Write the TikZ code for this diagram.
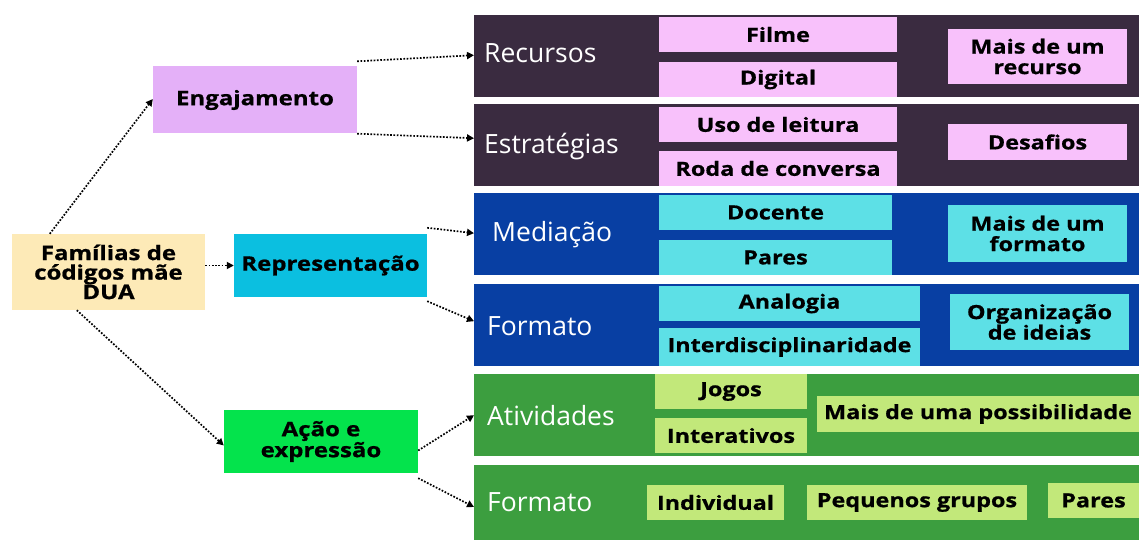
\documentclass[tikz,border=0pt]{standalone}
\usepackage{fontspec}
\setmainfont{Open Sans}
\newfontfamily\boxfont{Open Sans}[FakeStretch=1.2, BoldFeatures={FakeBold=0.8}]
\usepackage{tikz}
\usetikzlibrary{arrows.meta, positioning, calc}

\definecolor{bandpurple}{RGB}{58,43,64}
\definecolor{bandblue}{RGB}{8,63,163}
\definecolor{bandgreen}{RGB}{60,158,63}
\definecolor{pinkbox}{RGB}{248,193,251}
\definecolor{cyanbox}{RGB}{93,224,230}
\definecolor{limebox}{RGB}{194,232,122}
\definecolor{engfill}{RGB}{228,176,248}
\definecolor{repfill}{RGB}{11,191,224}
\definecolor{acaofill}{RGB}{4,227,76}
\definecolor{rootfill}{RGB}{253,234,183}

\tikzset{
  band/.style={rectangle, fill=#1, inner sep=0pt, anchor=north west, minimum width=665pt, minimum height=82pt},
  bandlabel/.style={anchor=west, text=white, font=\fontsize{26.5}{28}\selectfont, inner sep=0pt},
  item/.style={rectangle, fill=#1, inner sep=0pt, align=center, font=\boxfont\fontsize{19.5}{20.5}\selectfont\bfseries},
  family/.style={rectangle, fill=#1, inner sep=0pt, align=center, font=\boxfont\fontsize{20}{19.5}\selectfont\bfseries},
  link/.style={dash pattern=on 1.7pt off 1.6pt, line width=1.7pt, -{Triangle[length=7pt, width=7pt]}}
}

\begin{document}
\begin{tikzpicture}[x=1pt, y=-1pt]
    \useasboundingbox (0,0) rectangle (1139,540);

    % Bands
    \node[band=bandpurple] (recursos) at (474,15) {};
    \node[band=bandpurple] (estrategias) at (474,104) {};
    \node[band=bandblue] (mediacao) at (474,193) {};
    \node[band=bandblue] (formatoA) at (474,284) {};
    \node[band=bandgreen] (atividades) at (474,374) {};
    \node[band=bandgreen, minimum height=75pt] (formatoB) at (474,465) {};

    \node[bandlabel] (recursosT) at (484,53) {Recursos};
    \node[bandlabel] (estrategiasT) at (484,147) {Estratégias};
    \node[bandlabel] (mediacaoT) at (492,235) {Mediação};
    \node[bandlabel] (formatoAT) at (487,326) {Formato};
    \node[bandlabel] (atividadesT) at (487,416) {Atividades};
    \node[bandlabel] (formatoBT) at (487,502) {Formato};

    % Families
    \node[family=rootfill, minimum width=193pt, minimum height=76pt] (root) at (108.5,272) {Famílias de\\códigos mãe\\DUA};
    \node[family=engfill, minimum width=204pt, minimum height=67pt] (eng) at (255,100) {Engajamento};
    \node[family=repfill, minimum width=193pt, minimum height=63pt] (rep) at (330.5,265.5) {Representação};
    \node[family=acaofill, minimum width=194pt, minimum height=63pt] (acao) at (321,441.5) {Ação e\\expressão};

    % Items
    \node[item=pinkbox, minimum width=238pt, minimum height=35pt] (filme) at (778,34.5) {Filme};
    \node[item=pinkbox, minimum width=238pt, minimum height=35pt] (digital) at (778,79.5) {Digital};
    \node[item=pinkbox, minimum width=179pt, minimum height=55pt] (maisrec) at (1037.5,56.5) {Mais de um\\recurso};
    \node[item=pinkbox, minimum width=238pt, minimum height=35pt] (uso) at (778,124.5) {Uso de leitura};
    \node[item=pinkbox, minimum width=238pt, minimum height=35pt] (roda) at (778,168.5) {Roda de conversa};
    \node[item=pinkbox, minimum width=179pt, minimum height=36pt] (desafios) at (1037.5,142) {Desafios};
    \node[item=cyanbox, minimum width=233pt, minimum height=35pt] (docente) at (775.5,212.5) {Docente};
    \node[item=cyanbox, minimum width=233pt, minimum height=35pt] (paresA) at (775.5,257.5) {Pares};
    \node[item=cyanbox, minimum width=179pt, minimum height=57pt] (maisfor) at (1037.5,233.5) {Mais de um\\formato};
    \node[item=cyanbox, minimum width=261pt, minimum height=35pt] (analogia) at (789.5,303.5) {Analogia};
    \node[item=cyanbox, minimum width=261pt, minimum height=38pt] (inter) at (789.5,347) {Interdisciplinaridade};
    \node[item=cyanbox, minimum width=179pt, minimum height=56pt] (organiza) at (1039.5,322) {Organização\\de ideias};
    \node[item=limebox, minimum width=152pt, minimum height=35pt] (jogos) at (731,391.5) {Jogos};
    \node[item=limebox, minimum width=152pt, minimum height=35pt] (interativos) at (731,435.5) {Interativos};
    \node[item=limebox, minimum width=322pt, minimum height=36pt] (maispos) at (978,414) {Mais de uma possibilidade};
    \node[item=limebox, minimum width=137pt, minimum height=35pt] (individual) at (715.5,502.5) {Individual};
    \node[item=limebox, minimum width=220pt, minimum height=35pt] (pequenos) at (917,502.5) {Pequenos grupos};
    \node[item=limebox, minimum width=91pt, minimum height=35pt] (paresB) at (1093.5,500.5) {Pares};

    % Links
    \draw[link] ([xshift=38pt]root.north west) -- ([yshift=1pt]eng.west);
    \draw[link] (root.east |- rep.west) -- (rep.west);
    \draw[link] ([xshift=65pt]root.south west) -- ([yshift=-4pt]acao.west);
    \draw[link] ([yshift=5pt]eng.north east) -- ([yshift=1pt]recursos.west);
    \draw[link] (eng.south east) -- ([yshift=7pt]estrategias.west);
    \draw[link] ([yshift=6pt]rep.north east) -- ([yshift=1pt]mediacao.west);
    \draw[link] ([yshift=-4pt]rep.south east) -- ([yshift=4pt]formatoA.west);
    \draw[link] ([yshift=-9pt]acao.east) -- ([yshift=0pt]atividades.west);
    \draw[link] ([yshift=-5pt]acao.south east) -- ([yshift=-5pt]formatoB.west |- formatoBT.west);
\end{tikzpicture}
\end{document}
